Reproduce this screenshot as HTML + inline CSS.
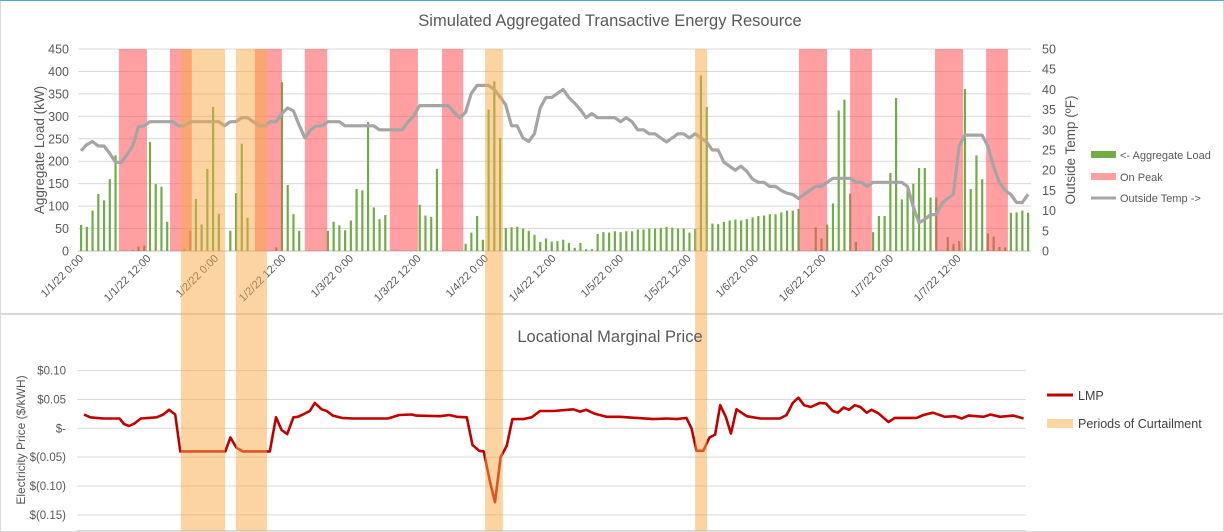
<!DOCTYPE html>
<html><head><meta charset="utf-8"><style>
html,body{margin:0;padding:0;background:#fff;}
svg{display:block;font-family:"Liberation Sans",sans-serif;}
</style></head><body>
<svg id="chart" width="1224" height="532" viewBox="0 0 1224 532" xmlns="http://www.w3.org/2000/svg">
<rect x="0.5" y="0.5" width="1223" height="313" fill="#fff" stroke="#D9D9D9"/>
<line x1="0" y1="0.5" x2="1224" y2="0.5" stroke="#4BACC6"/>
<rect x="0.5" y="314.5" width="1223" height="217" fill="#fff" stroke="#D9D9D9"/>
<g id="topGrid"></g>
<g id="redBands"></g>
<g id="bars"></g>
<g id="redOver"></g>
<g id="tempLine"></g>
<g id="botGrid"></g>
<g id="lmp"></g>
<g id="xlabels"></g>
<g id="orange"></g>
<g id="axes"></g>
<text x="610" y="26" text-anchor="middle" font-size="16.5" fill="#595959">Simulated Aggregated Transactive Energy Resource</text>
<text x="610" y="342" text-anchor="middle" font-size="16.5" fill="#595959">Locational Marginal Price</text>
<text transform="translate(44,150) rotate(-90)" text-anchor="middle" font-size="13.5" fill="#595959">Aggregate Load (kW)</text>
<text transform="translate(1075,150) rotate(-90)" text-anchor="middle" font-size="13.5" fill="#595959">Outside Temp (ºF)</text>
<text transform="translate(25,440) rotate(-90)" text-anchor="middle" font-size="12" fill="#595959">Electricity Price ($/kWH)</text>
<g>
<g><rect x="1091" y="151" width="25" height="7" fill="#70AD47"/><text x="1120" y="159" font-size="11" fill="#595959">&lt;- Aggregate Load</text></g>
<g><rect x="1091" y="173" width="25" height="7" fill="#FF9FA0"/><text x="1120" y="181" font-size="11" fill="#595959">On Peak</text></g>
<g><line x1="1091" y1="198" x2="1116" y2="198" stroke="#A5A5A5" stroke-width="3"/><text x="1120" y="202" font-size="11" fill="#595959">Outside Temp -&gt;</text></g>
</g>
<g>
<g><line x1="1047" y1="395" x2="1073" y2="395" stroke="#C00000" stroke-width="3"/><text x="1078" y="400" font-size="12.5" fill="#404040">LMP</text></g>
<g><rect x="1047" y="419" width="26" height="9" fill="#FBD5A2"/><text x="1078" y="428" font-size="12.5" fill="#404040">Periods of Curtailment</text></g>
</g>
</svg>
<script>
const loadValues=[58,54,90,127,113,160,213,0,0,2,10,12,243,149,143,65,0,0,5,45,116,59,183,321,83,0,45,129,239,74,0,0,0,0,8,376,147,82,45,0,0,0,0,45,65,57,46,68,138,135,287,97,71,80,0,0,0,0,0,103,79,76,183,0,0,0,0,16,41,78,25,315,378,252,51,53,54,50,45,36,
20,28,21,22,25,18,7,18,4,4,38,42,41,44,42,44,44,48,48,50,50,51,54,52,50,50,41,49,391,321,61,60,65,68,70,68,71,75,78,79,82,82,86,90,90,94,0,0,53,28,59,106,313,337,128,20,0,0,42,78,78,174,341,115,137,150,185,185,119,119,0,31,16,22,361,138,213,160,39,32,9,8,85,86,90,85];
const tempValues=[24.8,26.3,27.1,26,26,24.2,22,21.9,23.8,26,30.8,31,32,32,32,32,32,31,31,32,32,32,32,32,32,31,32,32,33,33,32,31,31,32,32,34,35.4,34.7,31.2,28,30,31,31,32,32,32,31,31,31,31,31,31,30,30,30,30,30,32,33.5,36,36,36,36,36,36,34.3,33,34.3,39,41,41,41,40,38.2,36.2,31,31,28,27.1,29,
35.4,38,38,39,40,38,36.6,35,33,34,33,33,33,33,32,33,32,30,30,29,29,28,27,28,29,29,28,29,28,27,25,25,22,21,20,21,19.7,17.8,17,17,16,16,15,14.3,14,13,14,15,16,16,17,18,18,18,18,17,17,16,17,17,17,17,17,17,16,11,7,7.8,9,9,11.8,13,14,26,28.7,28.7,28.7,28.7,26,21,17,15,14,12,12,14];
const onPeakStart=[6.6,15.5,30.3,39.0,53.8,62.9,125.1,134.0,148.8,157.7];
const onPeakEnd=[11.5,19.3,35.0,42.9,58.7,66.6,130.0,137.8,153.7,161.5];
const curtailStart=[17.4,27.0,70.4,107.0];
const curtailEnd=[25.1,32.4,73.5,109.1];
const lmpHours=[0,1.1,3.4,6.3,7.1,8,8.9,10.1,12.9,14.1,15.1,16.2,17.1,25.1,26,27.1,28.2,33,34.1,35.1,36.1,37.2,38,39.1,40.1,41,42.2,43.1,44.2,45.8,47.8,54,56,58.2,59,63.2,64.9,66.2,68,69,70.2,71,72.1,73,74,75.1,76.1,78,79.5,81,83.4,86.9,88.1,89.2,90.8,92.8,95.2,101.1,103.5,105.3,107,107.9,108.8,110,111.1,112.1,113,114,114.9,115.9,117.7,120.1,123.6,124.8,125.9,126.9,127.9,129.1,130.7,131.8,133,133.9,134.9,135.9,136.9,137.9,139,139.9,141.1,142.9,144,147.9,149.1,150.8,152.9,154.7,155.9,157.1,159.8,161,162.7,165.1,166.9];
const lmpCents=[2.4,1.9,1.7,1.7,0.75,0.4,0.8,1.7,1.9,2.4,3.2,2.4,-4,-4,-1.6,-3.4,-4,-4,1.9,-0.3,-1,1.9,2,2.5,3,4.4,3.3,3,2.2,1.8,1.7,1.7,2.3,2.4,2.2,2.1,2.3,2,1.9,-2.9,-3.9,-4,-9.2,-12.8,-5,-3,1.6,1.6,1.9,3,3,3.3,2.9,3.2,2.5,2,2,1.6,1.7,1.6,1.8,0,-3.9,-3.9,-1.6,-1.1,4,2,-0.9,3.3,2.1,1.7,1.7,2.3,4.4,5.3,4,3.7,4.4,4.3,3,2.7,3.6,3.2,4,3.7,2.7,3.2,2.6,1.1,1.8,1.8,2.3,2.7,2,2.1,1.7,2.2,2,2.4,2,2.2,1.7];
const loadTicks=[0,50,100,150,200,250,300,350,400,450];
const tempTicks=[0,5,10,15,20,25,30,35,40,45,50];
const priceTicks=[10,5,0,-5,-10,-15];
const priceLabels=["$0.10","$0.05","$-","$(0.05)","$(0.10)","$(0.15)"];
const dateLabels=["1/1/22 0:00","1/1/22 12:00","1/2/22 0:00","1/2/22 12:00","1/3/22 0:00","1/3/22 12:00","1/4/22 0:00","1/4/22 12:00","1/5/22 0:00","1/5/22 12:00","1/6/22 0:00","1/6/22 12:00","1/7/22 0:00","1/7/22 12:00"];

const NS="http://www.w3.org/2000/svg";
function mk(tag,attrs,parent){const e=document.createElementNS(NS,tag);for(const k in attrs)e.setAttribute(k,attrs[k]);parent.appendChild(e);return e;}
const n=loadValues.length;
const xIdx=i=>81+i*(947/(n-1));
const yLoad=v=>251-v*(202/450);
const yTemp=t=>251-t*(202/50);
const xHour=h=>84+h*5.63;
const yPrice=c=>428.3-c*5.77;

const topGrid=document.getElementById('topGrid');
loadTicks.forEach((t,i)=>{
  const l=mk('line',{x1:78,x2:1031,y1:yLoad(t),y2:yLoad(t),stroke:t===0?'#BFBFBF':'#D9D9D9','stroke-width':1},topGrid);
  
  
});
const axes=document.getElementById('axes');
loadTicks.forEach(t=>{
  const e=mk('text',{x:69,y:yLoad(t)+4.5,'text-anchor':'end','font-size':12.5,fill:'#595959'},axes);
  e.textContent=t;
  
  
});
tempTicks.forEach(t=>{
  const e=mk('text',{x:1042,y:yTemp(t)+4.5,'font-size':12.5,fill:'#595959'},axes);
  e.textContent=t;
  
  
});
const bandW=(a,b)=>xIdx(b)-xIdx(a);
const redOver=document.getElementById('redOver');
onPeakStart.forEach((s,i)=>{
  const r=mk('rect',{x:xIdx(s),y:49,width:bandW(s,onPeakEnd[i]),height:202,fill:'rgba(255,80,85,0.55)'},redOver);
  
  
});
const bars=document.getElementById('bars');
loadValues.forEach((v,i)=>{
  if(v<=0)return;
  const r=mk('rect',{x:xIdx(i)-1,y:yLoad(v),width:2.2,height:251-yLoad(v),fill:'#70AD47'},bars);
  
  
});
const tl=document.getElementById('tempLine');
const tp=mk('polyline',{points:tempValues.map((t,i)=>xIdx(i).toFixed(1)+','+yTemp(t).toFixed(1)).join(' '),fill:'none',stroke:'#A5A5A5','stroke-width':3.2,'stroke-linejoin':'round'},tl);



const xl=document.getElementById('xlabels');
dateLabels.forEach((d,k)=>{
  const x=80+k*67.5;
  const e=mk('text',{transform:`translate(${x+4},259) rotate(-45)`,'text-anchor':'end','font-size':11,fill:'#595959'},xl);
  e.textContent=d;
  
  
});

const bg=document.getElementById('botGrid');
priceTicks.forEach((c,i)=>{
  const l=mk('line',{x1:77,x2:1026,y1:yPrice(c),y2:yPrice(c),stroke:'#D9D9D9','stroke-width':1},bg);
  
  
  const e=mk('text',{x:66,y:yPrice(c)+4,'text-anchor':'end','font-size':11.5,fill:'#595959'},axes);
  e.textContent=priceLabels[i];
  
  
});
const ax=mk('line',{x1:77,x2:1026,y1:530.5,y2:530.5,stroke:'#D9D9D9'},bg);


const lm=document.getElementById('lmp');
const lp=mk('polyline',{points:lmpHours.map((h,i)=>xHour(h).toFixed(1)+','+yPrice(lmpCents[i]).toFixed(1)).join(' '),fill:'none',stroke:'#C00000','stroke-width':2.6,'stroke-linejoin':'round'},lm);



const og=document.getElementById('orange');
curtailStart.forEach((s,i)=>{
  const r=mk('rect',{x:xIdx(s),y:49,width:bandW(s,curtailEnd[i]),height:482,fill:'rgba(247,170,70,0.5)'},og);
  
  
});
</script>
</body></html>
